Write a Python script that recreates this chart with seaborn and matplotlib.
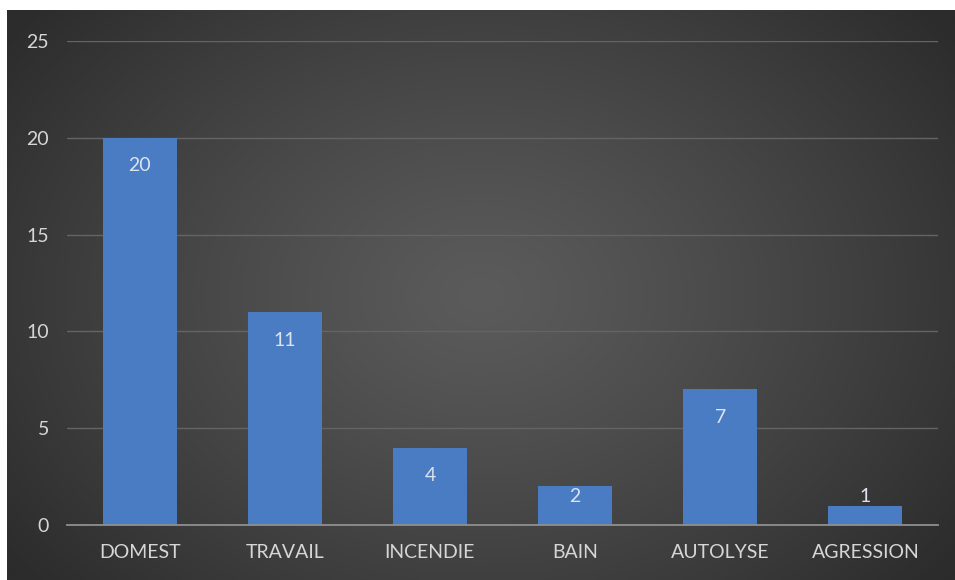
import numpy as np
import pandas as pd
import matplotlib
matplotlib.use("Agg")
import matplotlib.pyplot as plt
import seaborn as sns

categories = ["DOMEST", "TRAVAIL", "INCENDIE", "BAIN", "AUTOLYSE", "AGRESSION"]
counts = [20, 11, 4, 2, 7, 1]
y_ticks = [0, 5, 10, 15, 20, 25]

df = pd.DataFrame({"cause": categories, "n": counts})

sns.set_theme(style="white")
plt.rcParams["font.family"] = ["Lato", "DejaVu Sans"]

W, H = 955, 580
fig = plt.figure(figsize=(W / 100, H / 100), dpi=100, facecolor="white")

# dark radial-gradient backdrop
bg = fig.add_axes([7 / W, 0, (W - 7) / W, (H - 10) / H])
bg.set_axis_off()
gx, gy = np.meshgrid(np.linspace(0, 1, 480), np.linspace(0, 1, 290))
d = np.sqrt(((gx - 0.5) / 0.62) ** 2 + ((gy - 0.5) / 0.78) ** 2)
val = 91 - 47 * np.clip(d, 0, 1) ** 1.2
img = np.dstack([val, val, val]) / 255.0
bg.imshow(img, aspect="auto", interpolation="bicubic", extent=[0, 1, 0, 1])

ax = fig.add_axes([67 / W, 55 / H, (938 - 67) / W, (525 - 41) / H])
ax.patch.set_alpha(0)

sns.barplot(data=df, x="cause", y="n", color="#4a7cc4", width=0.51,
            saturation=1, edgecolor="none", linewidth=0, ax=ax)

ax.set_ylim(0, 25)
ax.set_yticks(y_ticks)
ax.set_xlabel("")
ax.set_ylabel("")
ax.grid(axis="y", color="#646464", linewidth=1)
ax.set_axisbelow(True)
for s in ["top", "right", "left"]:
    ax.spines[s].set_visible(False)
ax.spines["bottom"].set_color("#8f8f8f")
ax.spines["bottom"].set_linewidth(1.3)
ax.tick_params(axis="both", length=0, colors="#d6d6d6", labelsize=14)
ax.tick_params(axis="y", pad=13)
ax.tick_params(axis="x", pad=14)

# value labels near the top of each bar (above it when the bar is short)
for i, v in enumerate(counts):
    h_px = ax.transData.transform((0, v))[1] - ax.transData.transform((0, 0))[1]
    off = min(28, h_px - 28)
    ax.annotate(str(v), xy=(i, v), xytext=(0, -off), textcoords="offset pixels",
                ha="center", va="center", color="#dde3ee", fontsize=14)

fig.savefig("out.png", dpi=100, facecolor="white")
